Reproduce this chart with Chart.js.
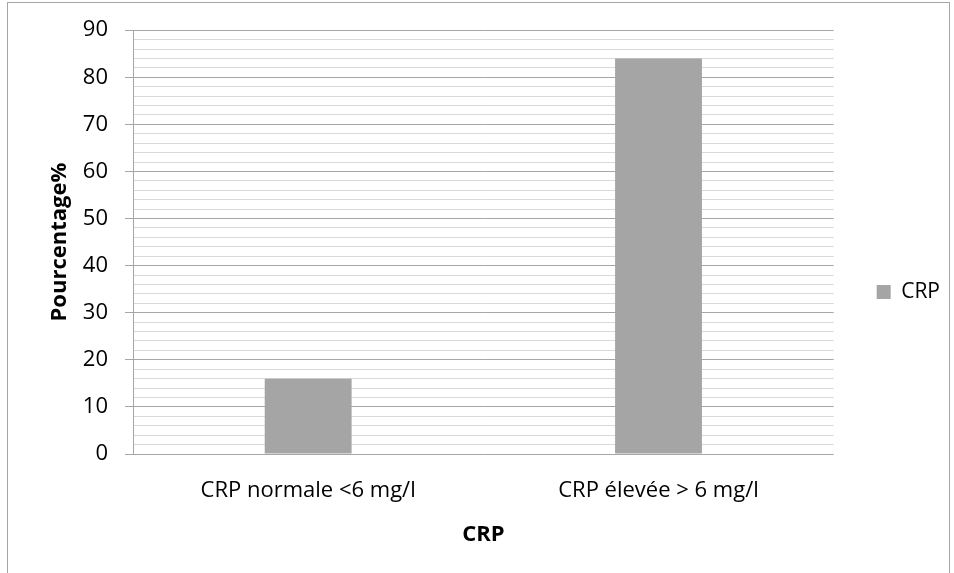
<!DOCTYPE html>
<html>
<head>
<meta charset="utf-8">
<script src="https://cdn.jsdelivr.net/npm/chart.js@4"></script>
<style>
  html, body { margin: 0; padding: 0; background: #fff; }
  #wrap { position: relative; width: 954px; height: 573px; }
</style>
</head>
<body>
<div id="wrap"><canvas id="crp-chart"></canvas></div>
<script>
const categories = ["CRP normale <6 mg/l", "CRP élevée > 6 mg/l"];
const crpValues = [16, 84];
const seriesLabel = "CRP";
const yTitle = "Pourcentage%";
const xTitle = "CRP";

const FONT = "'Open Sans', Lato, sans-serif";
const majorColor = "#a6a6a6";
const minorColor = "#d9d9d9";

// thin grey frame around the whole chart object
const frame = {
  id: "frame",
  beforeDraw(chart) {
    const ctx = chart.ctx;
    ctx.save();
    ctx.strokeStyle = "#a6a6a6";
    ctx.lineWidth = 1;
    ctx.strokeRect(7.5, 2.5, 942, 700);
    ctx.restore();
  },
};

new Chart(document.querySelector("#crp-chart"), {
  type: "bar",
  data: {
    labels: categories,
    datasets: [
      {
        label: seriesLabel,
        data: crpValues,
        backgroundColor: "#a5a5a5",
        borderWidth: 0,
        barPercentage: 0.248,
        categoryPercentage: 1,
      },
    ],
  },
  options: {
    responsive: true,
    maintainAspectRatio: false,
    animation: false,
    layout: { padding: { left: 47, top: 25, right: 4, bottom: 14 } },
    plugins: {
      tooltip: { enabled: false },
      legend: {
        position: "right",
        maxWidth: 120,
        labels: {
          color: "#000",
          boxWidth: 14,
          boxHeight: 14,
          padding: 43,
          font: { family: FONT, size: 21 },
        },
      },
    },
    scales: {
      x: {
        grid: { display: false, drawTicks: false },
        border: { display: false },
        ticks: { color: "#000", padding: 24, font: { family: FONT, size: 22 } },
        title: {
          display: true,
          text: xTitle,
          color: "#000",
          padding: { top: 0, bottom: 11 },
          font: { family: FONT, size: 22, weight: "bold" },
        },
        afterFit: (scale) => { scale.height = 573 - 454 - 14; },
      },
      y: {
        min: 0,
        max: 90,
        ticks: {
          stepSize: 2,
          autoSkip: false,
          color: "#000",
          padding: 17,
          font: { family: FONT, size: 22 },
          callback: (v) => (v % 10 === 0 ? String(v) : ""),
        },
        grid: {
          tickLength: 8,
          color: (c) => (c.tick && c.tick.value % 10 === 0 ? majorColor : minorColor),
          tickColor: (c) => (c.tick && c.tick.value % 10 === 0 ? majorColor : "rgba(0,0,0,0)"),
        },
        border: { color: majorColor },
        title: {
          display: true,
          text: yTitle,
          color: "#000",
          padding: 0,
          font: { family: FONT, size: 22, weight: "bold" },
        },
        afterFit: (scale) => { scale.width = 133 - 47; },
      },
    },
  },
  plugins: [frame],
});
</script>
</body>
</html>
